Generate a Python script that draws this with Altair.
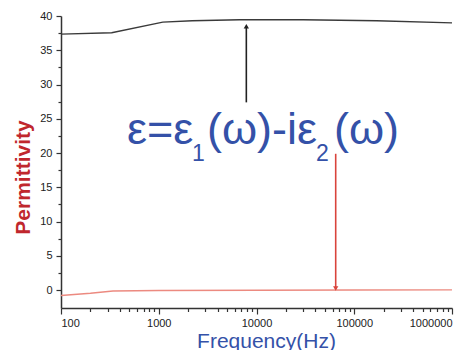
import altair as alt
import pandas as pd

# --- data ---
freq_real = [100, 330, 1100, 2200, 6700, 30000, 170000, 1000000]
eps_real = [37.35, 37.55, 39.1, 39.3, 39.45, 39.45, 39.3, 39.0]

freq_imag = [100, 200, 340, 1000, 10000, 100000, 1000000]
eps_imag = [-0.77, -0.45, -0.12, -0.05, 0.0, 0.03, 0.05]

x_major = [100, 1000, 10000, 100000, 1000000]
x_minor = [m * d for d in [100, 1000, 10000, 100000] for m in range(2, 10)]
y_major = [0, 5, 10, 15, 20, 25, 30, 35, 40]
y_minor = [2.5, 7.5, 12.5, 17.5, 22.5, 27.5, 32.5, 37.5]

# arrows: frequency, start value, tip value
arrow_freq = [7870, 64600]
arrow_from = [27.4, 19.9]
arrow_to = [38.5, 0.25]
arrow_color = ["#222222", "#d9443c"]
arrow_shape = ["triangle-up", "triangle-down"]

# equation pieces
eq_text = ["ε=ε", "1", "(ω)-iε", "2", "(ω)"]
eq_freq = [473, 2189, 3116, 40610, 62060]
eq_val = [21.3, 18.9, 21.3, 18.9, 21.3]
eq_size = [45, 23, 45, 23, 45]

lines = pd.DataFrame(
    {"f": freq_real + freq_imag,
     "v": eps_real + eps_imag,
     "s": ["real"] * len(freq_real) + ["imag"] * len(freq_imag)}
)
arrows = pd.DataFrame({"f": arrow_freq, "a": arrow_from, "b": arrow_to,
                       "c": arrow_color, "sh": arrow_shape})
eq = pd.DataFrame({"t": eq_text, "f": eq_freq, "v": eq_val, "fs": eq_size})

xscale = alt.Scale(type="log", domain=[100, 1000000])
yscale = alt.Scale(domain=[-2.6, 40], nice=False, zero=False)

axis_style = dict(
    labelFontSize=11, labelColor="#222222", labelFont="Liberation Sans",
    labelOverlap=False, grid=False,
    domainColor="#333333", domainWidth=1.5, tickColor="#333333", tickWidth=1.2,
)

xaxis = alt.Axis(
    values=x_major, format="d", orient="bottom", tickSize=6, labelPadding=3,
    title="Frequency(Hz)", titleColor="#3451a8", titleFontSize=21,
    titleFontWeight="normal", titleFont="Liberation Sans",
    titleX=205, titleY=39, titleAnchor="middle", titleAlign="center",
    titleBaseline="alphabetic", **axis_style,
)
yaxis = alt.Axis(
    values=y_major, orient="left", tickSize=5, labelPadding=4,
    title="Permittivity", titleColor="#c0272d", titleFontSize=21,
    titleFontWeight="bold", titleFont="Liberation Sans",
    titleX=-32, titleY=161, titleAngle=270, titleAlign="center",
    titleBaseline="alphabetic", **axis_style,
)
xaxis_minor = alt.Axis(values=x_minor, orient="bottom", tickSize=3.5, labels=False,
                       domain=False, title=None, grid=False,
                       tickColor="#333333", tickWidth=1.2)
yaxis_minor = alt.Axis(values=y_minor, orient="left", tickSize=3, labels=False,
                       domain=False, title=None, grid=False,
                       tickColor="#333333", tickWidth=1.2)

base_line = alt.Chart(lines).mark_line(strokeWidth=1.4).encode(
    x=alt.X("f:Q", scale=xscale, axis=xaxis),
    y=alt.Y("v:Q", scale=yscale, axis=yaxis),
    color=alt.Color("s:N", scale=alt.Scale(domain=["real", "imag"],
                                           range=["#3a3a3a", "#ec8a80"]), legend=None),
)

minor = alt.Chart(lines).mark_point(opacity=0).encode(
    x=alt.X("f:Q", scale=xscale, axis=xaxis_minor),
    y=alt.Y("v:Q", scale=yscale, axis=yaxis_minor),
)

shafts = alt.Chart(arrows).mark_rule(strokeWidth=1.6).encode(
    x=alt.X("f:Q", scale=xscale, axis=None),
    y=alt.Y("a:Q", scale=yscale, axis=None),
    y2="b:Q",
    color=alt.Color("c:N", scale=None),
)
heads = alt.Chart(arrows).mark_point(filled=True, size=28, opacity=1).encode(
    x=alt.X("f:Q", scale=xscale, axis=None),
    y=alt.Y("b:Q", scale=yscale, axis=None),
    color=alt.Color("c:N", scale=None),
    shape=alt.Shape("sh:N", scale=None),
)

equation = alt.Chart(eq).mark_text(
    align="left", baseline="alphabetic", color="#3451a8", font="Liberation Sans"
).encode(
    x=alt.X("f:Q", scale=xscale, axis=None),
    y=alt.Y("v:Q", scale=yscale, axis=None),
    text="t:N",
    size=alt.Size("fs:Q", scale=None),
)

chart = alt.layer(base_line, minor, shafts, heads, equation).resolve_axis(
    x="independent", y="independent"
).properties(
    width=391, height=292,
    autosize=alt.AutoSizeParams(type="none"),
    padding={"left": 53, "top": 8, "right": 14, "bottom": 42},
).configure_view(stroke=None)

chart.save("out.html", embed_options={"renderer": "svg", "actions": False})
